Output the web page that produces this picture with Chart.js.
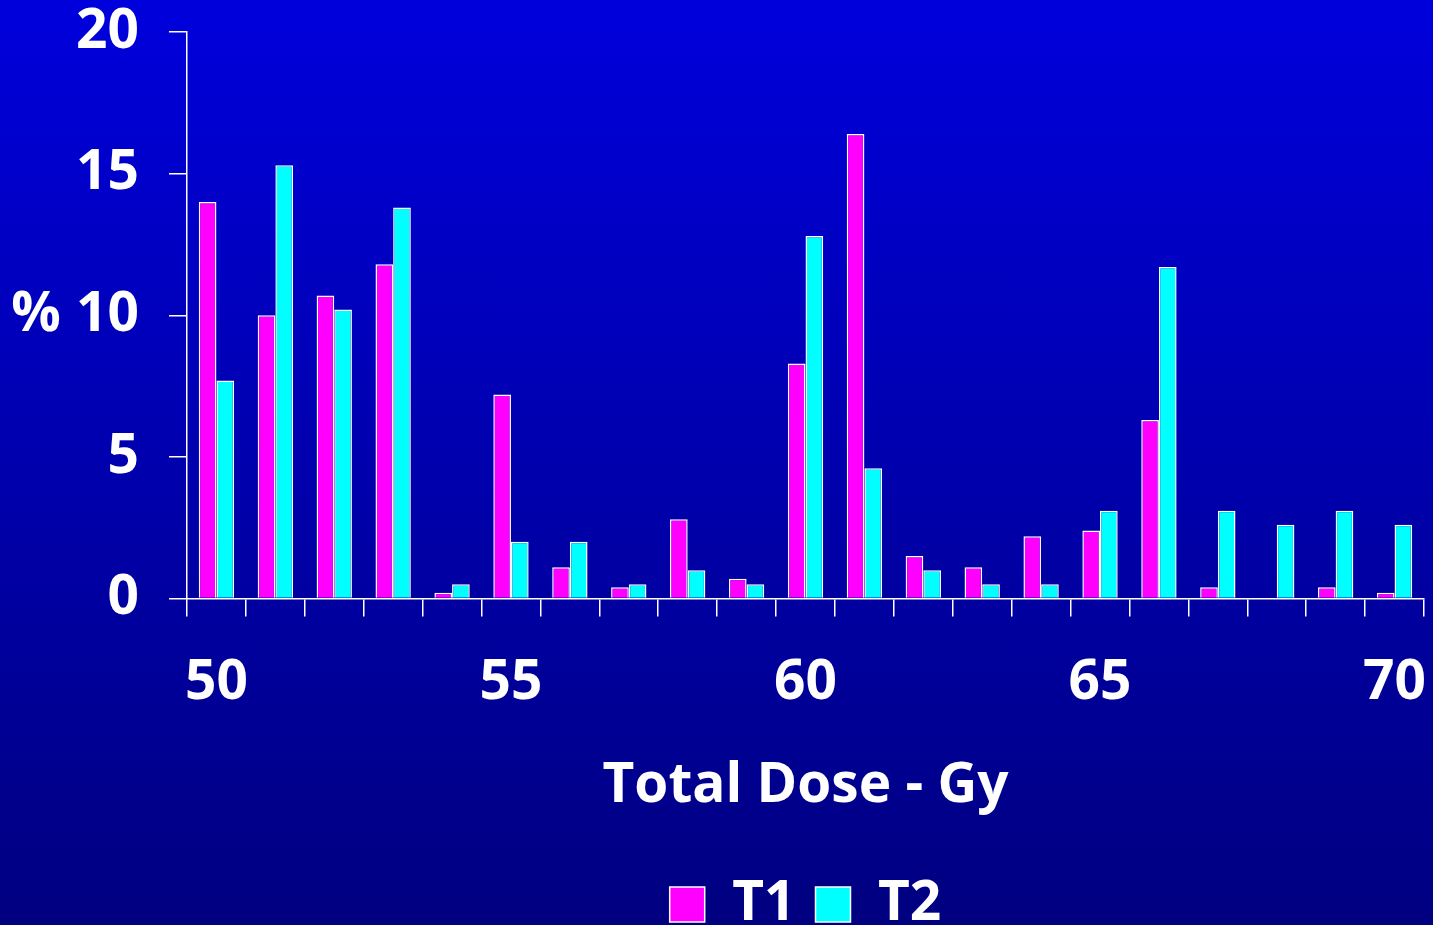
<!DOCTYPE html>
<html>
<head>
<meta charset="utf-8">
<script src="https://cdn.jsdelivr.net/npm/chart.js@4.4.1/dist/chart.umd.min.js"></script>
<style>
  html, body { margin: 0; padding: 0; overflow: hidden; }
  body { width: 1433px; height: 925px; background: linear-gradient(#0000DC, #000080); }
  #wrap { position: relative; width: 1433px; height: 942px; }
</style>
</head>
<body>
<div id="wrap"><canvas id="c"></canvas></div>
<script>
// Total dose categories (Gy)
const doses = [50, 51, 52, 53, 54, 55, 56, 57, 58, 59, 60, 61, 62, 63, 64, 65, 66, 67, 68, 69, 70];
// Percentage of patients per dose, by tumour stage
const t1 = [14.0, 10.0, 10.7, 11.8, 0.2, 7.2, 1.1, 0.4, 2.8, 0.7, 8.3, 16.4, 1.5, 1.1, 2.2, 2.4, 6.3, 0.4, 0, 0.4, 0.2];
const t2 = [7.7, 15.3, 10.2, 13.8, 0.5, 2.0, 2.0, 0.5, 1.0, 0.5, 12.8, 4.6, 1.0, 0.5, 0.5, 3.1, 11.7, 3.1, 2.6, 3.1, 2.6];
const yTicks = [0, 5, 10, 15, 20];
const seriesNames = ['T1', 'T2'];
const xTitle = 'Total Dose - Gy';
const yTitle = '%';

const FONT = "'Open Sans', sans-serif";
const big = { family: FONT, weight: 'bold', size: 55, lineHeight: 1.15 };

// Unrotated "%" label beside the value axis, and legend centred under the plot area
const extrasPlugin = {
  id: 'extras',
  afterLayout(chart) {
    const lg = chart.legend, ca = chart.chartArea;
    if (lg) {
      lg.left = ca.left;
      lg.right = ca.right;
      lg.width = ca.right - ca.left;
    }
  },
  afterDraw(chart) {
    const ctx = chart.ctx;
    const y = chart.scales.y.getPixelForValue(10);
    ctx.save();
    ctx.font = `bold 55px ${FONT}`;
    ctx.fillStyle = '#ffffff';
    ctx.textAlign = 'center';
    ctx.textBaseline = 'middle';
    ctx.fillText(yTitle, 36, y);
    ctx.restore();
  }
};

function build() {
  new Chart(document.getElementById('c'), {
    type: 'bar',
    data: {
      labels: doses,
      datasets: [
        { label: seriesNames[0], data: t1, backgroundColor: '#ff00ff', borderColor: '#ffffff', borderWidth: 1.5 },
        { label: seriesNames[1], data: t2, backgroundColor: '#00ffff', borderColor: '#ffffff', borderWidth: 1.5 }
      ]
    },
    options: {
      responsive: true,
      maintainAspectRatio: false,
      animation: false,
      datasets: { bar: { categoryPercentage: 0.6, barPercentage: 1.0 } },
      layout: { padding: { left: 0, right: 9, top: 32, bottom: 0 } },
      plugins: {
        tooltip: { enabled: false },
        legend: {
          position: 'bottom',
          labels: { color: '#ffffff', font: big, boxWidth: 35, boxHeight: 35, padding: 20 }
        }
      },
      scales: {
        x: {
          offset: true,
          afterFit: s => { s.paddingLeft = 0; s.paddingRight = 0; },
          grid: { offset: true, drawOnChartArea: false, color: '#ffffff', lineWidth: 1.5, tickLength: 18 },
          border: { display: true, color: '#ffffff', width: 1.5 },
          ticks: {
            color: '#ffffff', font: big, padding: 35, autoSkip: false, maxRotation: 0,
            callback: (v, i) => (doses[i] % 5 === 0 ? String(doses[i]) : '')
          },
          title: { display: true, text: xTitle, color: '#ffffff', font: big, padding: { top: 5, bottom: 39 } }
        },
        y: {
          min: 0, max: 20,
          afterFit: s => { s.width = 187; s.paddingTop = 0; s.paddingBottom = 0; },
          afterBuildTicks: s => { s.ticks = yTicks.map(v => ({ value: v })); },
          grid: { drawOnChartArea: false, color: '#ffffff', lineWidth: 1.5, tickLength: 18 },
          border: { display: true, color: '#ffffff', width: 1.5 },
          ticks: { color: '#ffffff', font: big, padding: 30 }
        }
      }
    },
    plugins: [extrasPlugin]
  });
}

if (document.fonts && document.fonts.load) {
  document.fonts.load(`bold 55px ${FONT}`).then(build, build);
} else {
  build();
}
</script>
</body>
</html>
